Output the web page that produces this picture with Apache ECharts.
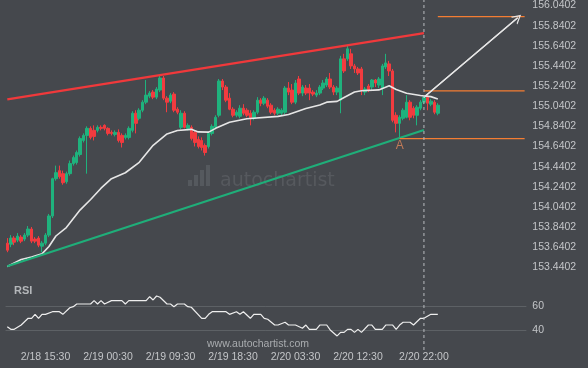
<!DOCTYPE html>
<html><head><meta charset="utf-8">
<script src="https://cdn.jsdelivr.net/npm/echarts@6/dist/echarts.min.js"></script>
<style>html,body{margin:0;padding:0;background:#45484d;}#c{width:588px;height:368px;}</style>
</head><body><div id="c"></div>
<script>
const slotCount = 150;
const tickIdx = [11, 29, 47, 65, 83, 101, 120];
const tickText = ['2/18 15:30', '2/19 00:30', '2/19 09:30', '2/19 18:30', '2/20 03:30', '2/20 12:30', '2/20 22:00'];
const priceMin = 153.4402, priceMax = 156.0402, priceStep = 0.2;

const opens = [153.68,153.67,153.73,153.71,153.74,153.72,153.76,153.82,153.72,153.73,
153.65,153.68,153.76,153.95,154.32,154.40,154.37,154.29,154.37,154.47,
154.48,154.56,154.70,154.75,154.82,154.80,154.80,154.83,154.85,154.82,
154.78,154.76,154.78,154.75,154.73,154.73,154.80,154.97,154.92,155.00,
155.08,155.14,155.18,155.13,155.20,155.32,155.12,155.09,155.16,155.01,
154.83,154.97,154.82,154.83,154.78,154.71,154.70,154.65,154.64,154.77,
154.83,154.95,155.29,155.23,155.12,155.01,154.95,154.94,155.02,155.00,
154.97,154.92,154.98,155.10,155.07,155.10,155.05,155.00,154.97,154.97,
154.98,155.22,155.20,155.08,155.31,155.17,155.22,155.22,155.18,155.15,
155.17,155.22,155.25,155.31,155.23,155.18,155.10,155.51,155.51,155.56,
155.44,155.41,155.41,155.18,155.24,155.23,155.30,155.25,155.22,155.43,
155.46,155.39,154.95,154.87,154.92,154.93,155.08,155.02,154.95,155.02,
155.08,155.13,155.06,155.08,154.97];
const closes = [153.61,153.73,153.69,153.75,153.70,153.76,153.82,153.70,153.70,153.66,
153.68,153.76,153.95,154.32,154.38,154.34,154.28,154.37,154.47,154.53,
154.58,154.72,154.75,154.82,154.73,154.74,154.83,154.82,154.82,154.77,
154.77,154.78,154.70,154.68,154.75,154.82,154.97,154.87,155.00,155.08,
155.15,155.17,155.13,155.21,155.32,155.12,155.08,155.15,155.00,154.98,
154.97,154.83,154.85,154.72,154.68,154.64,154.63,154.58,154.77,154.84,
154.93,155.29,155.23,155.10,155.01,154.95,154.98,155.02,154.97,154.95,
154.92,154.98,155.10,155.07,155.12,155.04,154.98,154.97,155.01,155.00,
155.22,155.18,155.08,155.27,155.17,155.23,155.17,155.17,155.16,155.17,
155.23,155.27,155.31,155.23,155.18,155.22,155.51,155.39,155.61,155.44,
155.41,155.37,155.20,155.21,155.20,155.30,155.27,155.31,155.44,155.47,
155.39,154.90,154.87,154.93,155.00,155.08,154.93,154.95,155.03,155.08,
155.13,155.07,155.09,154.98,155.05];
const lows = [153.59,153.64,153.66,153.69,153.68,153.70,153.74,153.68,153.68,153.64,
153.59,153.66,153.74,153.93,154.30,154.32,154.26,154.27,154.35,154.45,
154.46,154.54,154.68,154.37,154.71,154.70,154.78,154.80,154.80,154.75,
154.75,154.74,154.68,154.63,154.71,154.71,154.78,154.77,154.90,154.98,
155.06,155.12,155.11,155.11,155.18,155.10,154.98,155.07,154.98,154.96,
154.81,154.82,154.80,154.70,154.64,154.62,154.60,154.55,154.62,154.75,
154.81,154.93,155.20,155.08,155.00,154.93,154.93,154.92,154.95,154.93,
154.85,154.90,154.96,155.04,155.05,155.02,154.96,154.95,154.95,154.95,
154.96,155.15,155.06,155.06,155.15,155.14,155.15,155.10,155.14,155.13,
155.15,155.20,155.23,155.21,155.15,155.15,154.97,155.37,155.49,155.41,
155.37,155.35,155.15,155.15,155.18,155.20,155.23,155.22,155.15,155.41,
155.34,154.88,154.78,154.72,154.90,154.92,154.90,154.92,154.85,155.00,
155.06,155.00,155.04,154.96,154.95];
const highs = [153.73,153.76,153.75,153.78,153.76,153.78,153.85,153.84,153.74,153.75,
153.70,153.78,153.97,154.33,154.45,154.45,154.40,154.39,154.50,154.55,
154.60,154.74,154.77,154.84,154.84,154.85,154.85,154.85,154.86,154.83,
154.80,154.80,154.81,154.77,154.77,154.84,154.99,155.00,155.02,155.10,
155.30,155.19,155.20,155.23,155.35,155.34,155.14,155.17,155.18,155.03,
155.00,154.99,154.87,154.85,154.80,154.74,154.73,154.67,154.79,154.86,
154.95,155.31,155.31,155.25,155.17,155.03,155.00,155.05,155.06,155.02,
155.00,155.00,155.13,155.12,155.14,155.12,155.07,155.02,155.03,155.02,
155.24,155.28,155.26,155.30,155.34,155.25,155.25,155.26,155.20,155.20,
155.25,155.30,155.33,155.37,155.25,155.24,155.54,155.56,155.64,155.61,
155.46,155.43,155.43,155.23,155.26,155.31,155.31,155.33,155.46,155.56,
155.49,155.41,154.98,154.95,155.02,155.15,155.10,155.04,155.05,155.10,
155.15,155.15,155.11,155.10,155.07];

const maIdx = [0,4,7,10,12,14,17,21,24,27,30,34,38,42,46,49,53,55,58,60,64,69,78,81,86,90,92,95,97,100,102,107,110,112,115,119,122,124];
const maVal = [153.449,153.518,153.543,153.574,153.647,153.751,153.835,154.011,154.113,154.226,154.320,154.379,154.483,154.652,154.765,154.798,154.810,154.785,154.783,154.820,154.880,154.916,154.939,154.958,155.018,155.051,155.080,155.088,155.127,155.181,155.194,155.202,155.243,155.206,155.169,155.147,155.135,155.112];

const rsiIdx = [0,1,2,4,6,7,8,9,10,11,13,15,16,18,19,20,24,25,26,27,28,30,33,34,35,40,41,42,43,44,46,47,48,49,51,52,53,56,57,58,59,63,64,66,67,68,70,71,73,74,75,77,78,80,81,83,85,86,87,89,90,92,93,95,96,97,98,99,100,101,102,104,105,106,108,109,111,112,113,114,116,117,119,120,122,124];
const rsiVal = [43.0,40.8,40.8,44.4,50.0,50.0,53.3,50.0,53.3,53.3,55.5,55.5,53.3,58.8,59.7,61.9,61.9,64.7,61.9,64.7,61.9,64.7,64.7,61.9,64.7,64.7,68.0,65.3,68.6,67.5,61.9,61.9,59.7,61.9,61.9,59.7,59.2,50.0,50.0,53.3,55.5,55.5,53.3,55.5,53.3,55.5,50.0,53.3,53.3,50.0,49.2,44.4,44.4,46.7,44.4,44.4,41.7,44.4,40.8,40.8,44.4,44.4,40.3,35.3,38.3,38.3,40.8,40.8,38.3,40.8,38.3,44.4,44.4,40.8,40.8,44.4,44.4,40.8,44.4,46.7,46.7,44.4,50.0,50.0,53.3,53.3];

const resistanceIdx = [0, 120], resistanceVal = [155.108, 155.765];
const supportIdx = [0, 120], supportVal = [153.450, 154.803];
const targetIdx = [124, 149], targetVal = 155.929;
const levelHighIdx = [120, 149], levelHighVal = 155.193;
const levelLowIdx = [113, 149], levelLowVal = 154.718;
const arrowFrom = [120, 155.130], arrowTo = [147, 155.919];
const pointA = [113, 154.651];
const patternEndIdx = 120;

const slots = [];
for (let i = 0; i < slotCount; i++) slots.push('s' + i);
const candles = opens.map((o, i) => [o, closes[i], lows[i], highs[i]]);
const pairs = (xs, ys) => xs.map((x, i) => [x, ys[i]]);

const GL = 5.56, GW = 520.8;
const UP = '#1fb27d', DOWN = '#f23b3f', ORANGE = '#f47d33';
const FONT = 'Liberation Sans, Arial, sans-serif';
const chart = echarts.init(document.getElementById('c'));
chart.setOption({
  backgroundColor: '#45484d',
  animation: false,
  grid: [
    {left: GL, width: GW, top: 4.7, height: 262.6},
    {left: GL, width: GW, top: 306.3, height: 24},
    {left: GL, width: GW, top: 0, height: 350}
  ],
  xAxis: [
    {type: 'category', gridIndex: 0, data: slots, show: false},
    {type: 'category', gridIndex: 1, data: slots, axisLine: {show: false}, axisTick: {show: false},
     axisLabel: {interval: 0, margin: 21, color: '#c3c5c8', fontSize: 10.5, fontFamily: FONT,
       formatter: (v, idx) => { const k = tickIdx.indexOf(idx); return k >= 0 ? tickText[k] : ''; }}},
    {type: 'category', gridIndex: 2, data: slots, show: false}
  ],
  yAxis: [
    {type: 'value', gridIndex: 0, position: 'right', min: priceMin, max: priceMax, interval: priceStep,
     axisLine: {show: false}, axisTick: {show: false}, splitLine: {show: false},
     axisLabel: {margin: 6, color: '#c3c5c8', fontSize: 10.5, fontFamily: FONT,
       formatter: v => (priceMin + Math.round((v - priceMin) / priceStep) * priceStep).toFixed(4)}},
    {type: 'value', gridIndex: 1, position: 'right', min: 40, max: 60, interval: 20,
     axisLine: {show: false}, axisTick: {show: false},
     splitLine: {show: true, lineStyle: {color: '#5d6165', width: 1}},
     axisLabel: {margin: 6, color: '#c3c5c8', fontSize: 10.5, fontFamily: FONT}},
    {type: 'value', gridIndex: 2, min: 0, max: 1, show: false}
  ],
  series: [
    {type: 'candlestick', xAxisIndex: 0, yAxisIndex: 0, data: candles, barWidth: 3,
     itemStyle: {color: UP, color0: DOWN, borderColor: UP, borderColor0: DOWN, borderWidth: 1}},
    {type: 'line', xAxisIndex: 0, yAxisIndex: 0, data: pairs(maIdx, maVal), symbol: 'none',
     lineStyle: {color: '#e6e6e6', width: 1.6}, z: 3},
    {type: 'line', xAxisIndex: 0, yAxisIndex: 0, data: pairs(resistanceIdx, resistanceVal), symbol: 'none',
     lineStyle: {color: '#f0393b', width: 2.2}, z: 4},
    {type: 'line', xAxisIndex: 0, yAxisIndex: 0, data: pairs(supportIdx, supportVal), symbol: 'none',
     lineStyle: {color: '#1fae79', width: 2.2}, z: 4},
    {type: 'line', xAxisIndex: 0, yAxisIndex: 0, data: targetIdx.map(x => [x, targetVal]), symbol: 'none',
     lineStyle: {color: ORANGE, width: 1.3}, z: 4},
    {type: 'line', xAxisIndex: 0, yAxisIndex: 0, data: levelHighIdx.map(x => [x, levelHighVal]), symbol: 'none',
     lineStyle: {color: ORANGE, width: 1.3}, z: 4},
    {type: 'line', xAxisIndex: 0, yAxisIndex: 0, data: levelLowIdx.map(x => [x, levelLowVal]), symbol: 'none',
     lineStyle: {color: ORANGE, width: 1.3}, z: 4},
    {type: 'line', xAxisIndex: 0, yAxisIndex: 0, data: [arrowFrom, arrowTo], symbol: 'none',
     lineStyle: {color: '#e6e6e6', width: 1.3}, z: 5,
     markLine: {silent: true, symbol: ['none', 'path://M0,10 L5,0 L10,10 L8.6,10 L5,2.8 L1.4,10 Z'], symbolSize: [10, 9],
       lineStyle: {color: '#e6e6e6', width: 1.3, type: 'solid'}, label: {show: false},
       data: [[{coord: arrowFrom}, {coord: arrowTo}]]}},
    {type: 'scatter', xAxisIndex: 0, yAxisIndex: 0, data: [pointA], symbolSize: 1, itemStyle: {color: 'rgba(0,0,0,0)'},
     label: {show: true, formatter: 'A', position: 'inside', color: '#e0875a', fontSize: 12, fontFamily: FONT}},
    {type: 'line', xAxisIndex: 1, yAxisIndex: 1, data: pairs(rsiIdx, rsiVal), symbol: 'none', clip: false,
     lineStyle: {color: '#eeeeee', width: 1.2}},
    {type: 'line', xAxisIndex: 2, yAxisIndex: 2, data: [[patternEndIdx, 0], [patternEndIdx, 1]], symbol: 'none',
     lineStyle: {color: '#b9bcbf', width: 1, type: [3, 3]}, z: 6}
  ],
  graphic: [
    {type: 'text', left: 14, top: 285, style: {text: 'RSI', fill: '#b4b7ba', font: 'bold 11px ' + FONT}},
    {type: 'text', left: 207, top: 339, style: {text: 'www.autochartist.com', fill: '#a9acaf', font: '10.5px ' + FONT}},
    {type: 'group', left: 188, top: 165, silent: true, children: [
      {type: 'rect', shape: {x: 0, y: 17, width: 4, height: 6}, style: {fill: '#55595e'}},
      {type: 'rect', shape: {x: 6, y: 12, width: 4, height: 11}, style: {fill: '#55595e'}},
      {type: 'rect', shape: {x: 12, y: 7, width: 4, height: 16}, style: {fill: '#55595e'}},
      {type: 'rect', shape: {x: 18, y: 2, width: 4, height: 21}, style: {fill: '#55595e'}},
      {type: 'text', x: 32, y: 9, style: {text: 'autochartist', fill: '#56595e', font: '19px DejaVu Sans, sans-serif'}}
    ]}
  ]
});
</script></body></html>
